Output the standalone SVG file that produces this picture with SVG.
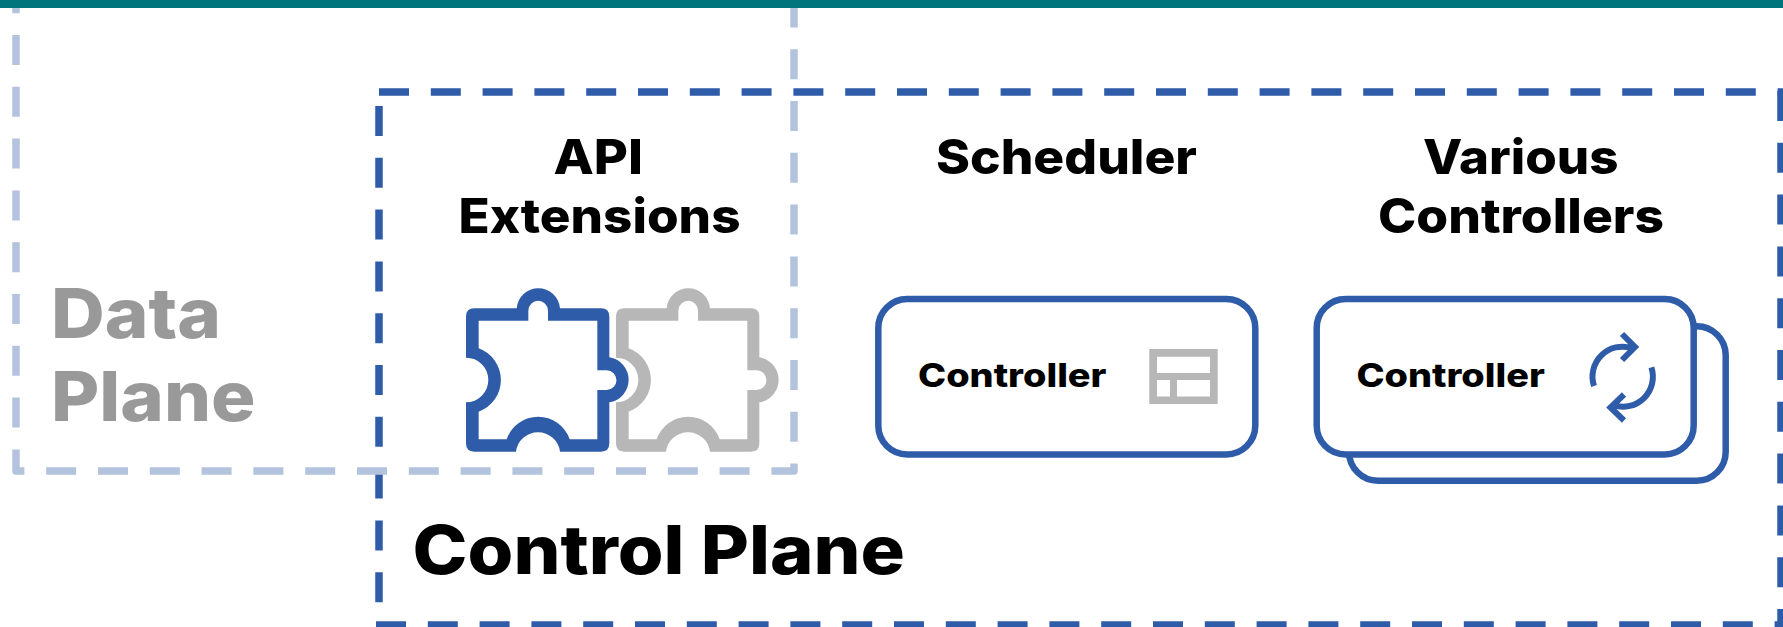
<svg xmlns="http://www.w3.org/2000/svg" xmlns:xlink="http://www.w3.org/1999/xlink" width="1783" height="627" viewBox="0 0 1783 627">
<style>
text{font-family:"Inter","Liberation Sans",sans-serif;font-weight:800;fill:#000}
.dash{fill:none;stroke-width:7.5;stroke-dasharray:30 21.8;stroke-linejoin:round}
.cp{stroke:#2f5ca9}
.dp{stroke:#b3c2dd}
.box{fill:#fff;stroke:#2f5ca9;stroke-width:6.5}
.big{font-size:48px}
.small{font-size:33px}
.arrow{fill:none;stroke:#2f5ca9;stroke-width:6}
</style>
<defs>
<path id="puzzle" fill-rule="evenodd" transform="translate(440 270) scale(.33333)" d="M78 140Q78 115 103 115H230A65.2 65.2 0 0 1 360 115H483Q508 115 508 140V262A68.3 68.3 0 0 1 508 397V520Q508 545 483 545H360A66.5 66.5 0 0 0 228 545H103Q78 545 78 520V397A67 67 0 0 0 78 263V140ZM116 152V235A101 101 0 0 1 116 425V508H200A99.7 99.7 0 0 1 389 508H472V360H500A29.5 29.5 0 0 0 500 301H472V152H324V122A29.5 29.5 0 0 0 265 122V152Z"/>
</defs>
<rect width="1783" height="627" fill="#fff"/>
<g id="connectors"/>
<g id="control-plane">
<path class="dash cp" d="M379 92H1783"/>
<path class="dash cp" d="M379 106V610"/>
<path class="dash cp" d="M1781 88V627" stroke-dashoffset="-3"/>
<path class="dash cp" d="M376 625H1783"/>
<text x="412.500" y="574" style="font-size:67px" textLength="492.500" lengthAdjust="spacingAndGlyphs">Control Plane</text>
</g>
<g id="data-plane">
<path class="dash dp" d="M16 -16.8V471H794V-20"/>
<text x="51" y="337.7" style="fill:#999;font-size:69px" textLength="170" lengthAdjust="spacingAndGlyphs">Data</text>
<text x="51" y="420.7" style="fill:#999;font-size:69px" textLength="204.500" lengthAdjust="spacingAndGlyphs">Plane</text>
</g>
<g id="api-extensions">
<text x="553.500" y="174.3" class="big" textLength="89.500" lengthAdjust="spacingAndGlyphs">API</text>
<text x="458.500" y="233" class="big" textLength="282" lengthAdjust="spacingAndGlyphs">Extensions</text>
<use xlink:href="#puzzle" href="#puzzle" x="150" fill="#b7b7b7"/>
<use xlink:href="#puzzle" href="#puzzle" fill="#2f5ca9"/>
</g>
<g id="scheduler">
<text x="936" y="174.300" class="big" textLength="261" lengthAdjust="spacingAndGlyphs">Scheduler</text>
<rect class="box" x="878.300" y="299" width="377" height="155.500" rx="29"/>
<text x="918" y="387" class="small" textLength="188.500" lengthAdjust="spacingAndGlyphs">Controller</text>
<path fill="#b7b7b7" fill-rule="evenodd" d="M1149.300 349H1217.700V404H1149.300ZM1157 356.800V373H1210V356.800ZM1157 380V396.500H1170V380ZM1177 380V396.500H1210V380Z"/>
</g>
<g id="various-controllers">
<text x="1423" y="174.300" class="big" textLength="195.500" lengthAdjust="spacingAndGlyphs">Various</text>
<text x="1378" y="233" class="big" textLength="286" lengthAdjust="spacingAndGlyphs">Controllers</text>
<rect class="box" x="1349" y="326.300" width="376.700" height="154.500" rx="29"/>
<rect class="box" x="1316.700" y="299" width="377" height="155.500" rx="29"/>
<text x="1356.400" y="387" class="small" textLength="188.500" lengthAdjust="spacingAndGlyphs">Controller</text>
<path class="arrow" d="M1594 386A30 30 0 0 1 1632 348.200M1622 334L1635 347L1622 360"/>
<path class="arrow" d="M1651.400 367.400A30 30 0 0 1 1613.400 405.200M1624 394.500L1610.500 407.500L1624 420.500"/>
</g>
<rect id="top-band" width="1783" height="8" fill="#00757c"/>
</svg>
